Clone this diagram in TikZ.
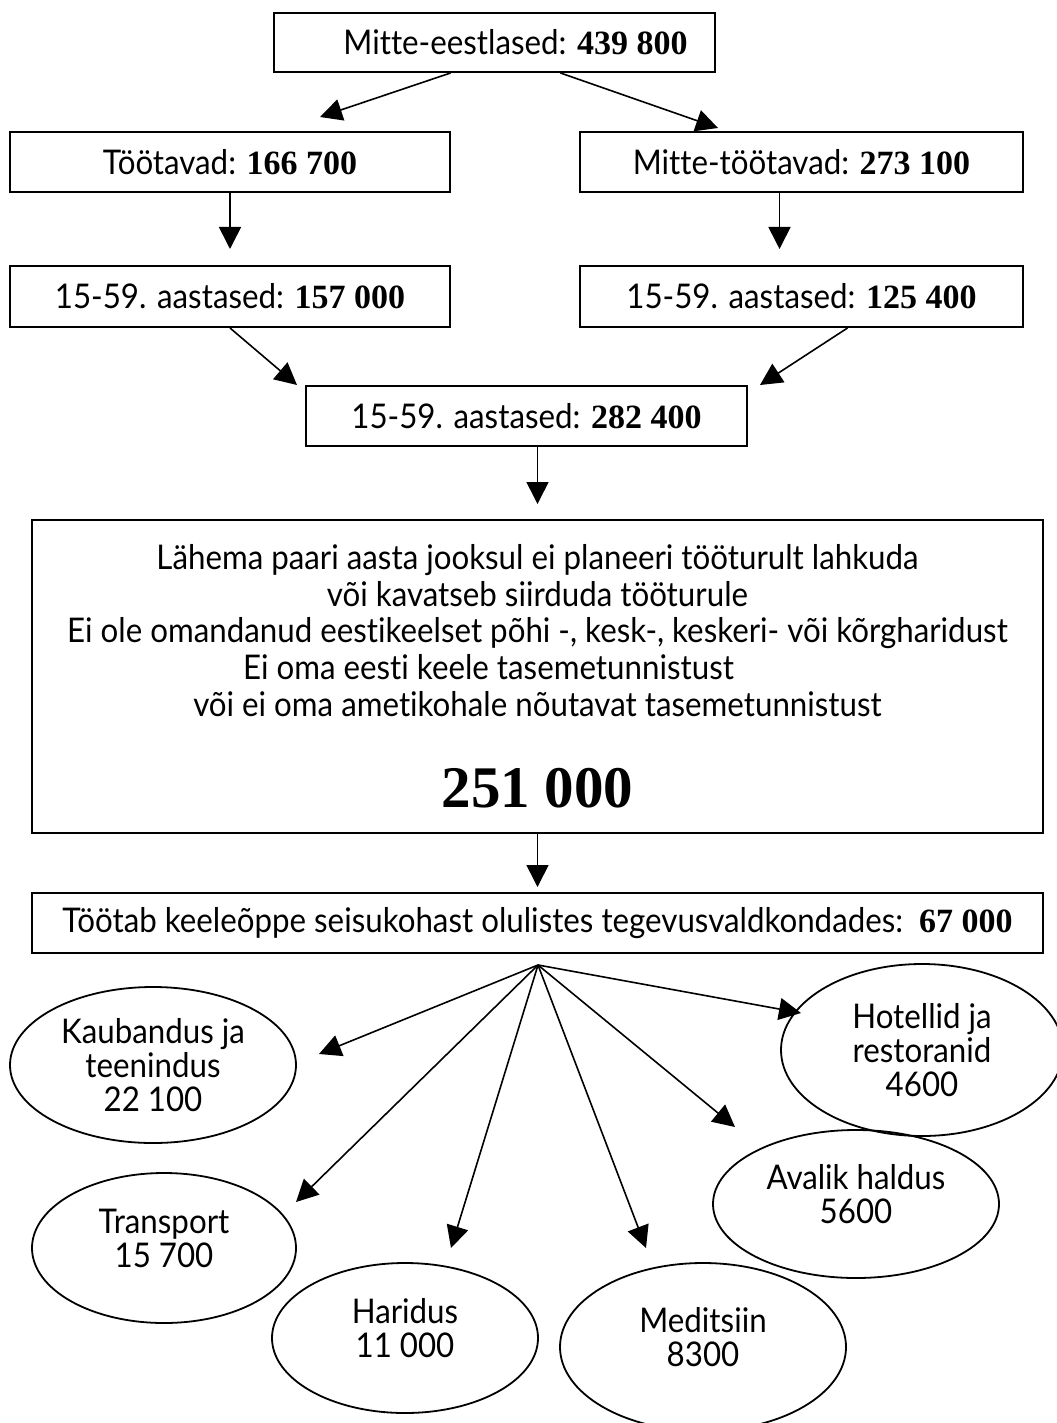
\documentclass[tikz,border=0pt]{standalone}
\usepackage{fontspec}
\setmainfont{Lato}[FakeStretch=0.92, Ligatures=NoCommon]
\newfontfamily\numfont{Liberation Serif}
\usetikzlibrary{shapes.geometric}
\usetikzlibrary{arrows.meta}

\newcommand{\amount}[1]{{\numfont\bfseries #1}}

\tikzset{
  box/.style={draw, line width=1pt, inner sep=0pt,
    font=\fontsize{17}{18.3}\selectfont},
  sector/.style={draw, ellipse, line width=0.9pt, inner sep=0pt},
  lab/.style={align=center, inner sep=0pt, font=\fontsize{17}{17}\selectfont},
  arr/.style={-{Triangle[length=11pt,width=11pt]}, line width=0.8pt}
}

\begin{document}
\begin{tikzpicture}[x=0.5pt, y=-0.5pt]
    \useasboundingbox (0,0) rectangle (1056,1423);

    % boxes
    \node[box, minimum width=220.5pt, minimum height=29.5pt] (all) at (494.5,42.5)
        {\hspace*{21pt}Mitte-eestlased: \amount{439 800}};
    \node[box, minimum width=220pt, minimum height=30pt] (work) at (230,162)
        {Töötavad: \amount{166 700}};
    \node[box, minimum width=221.5pt, minimum height=30pt] (nowork) at (801.5,162)
        {Mitte-töötavad: \amount{273 100}};
    \node[box, minimum width=220pt, minimum height=30.5pt] (ageW) at (230,296.5)
        {15-59. aastased: \amount{157 000}};
    \node[box, minimum width=221.5pt, minimum height=30.5pt] (ageN) at (801.5,296.5)
        {15-59. aastased: \amount{125 400}};
    \node[box, minimum width=220.5pt, minimum height=30pt] (age) at (526.5,416)
        {15-59. aastased: \amount{282 400}};
    \node[box, align=center, minimum width=505.5pt, minimum height=156.5pt] (goal) at (537.5,676.5)
        {Lähema paari aasta jooksul ei planeeri tööturult lahkuda\\
         või kavatseb siirduda tööturule\\
         Ei ole omandanud eestikeelset põhi -, kesk-, keskeri- või kõrgharidust\\
         Ei oma eesti keele tasemetunnistust\hspace*{49pt}\mbox{}\\
         või ei oma ametikohale nõutavat tasemetunnistust\\[25pt]
         {\fontsize{29.5}{30}\selectfont\amount{251 000}}};
    \node[box, minimum width=505.5pt, minimum height=30pt] (field) at (537.5,923)
        {Töötab keeleõppe seisukohast olulistes tegevusvaldkondades:~~\amount{67 000}};

    % fields
    \node[sector, minimum width=143pt, minimum height=78pt,
        label={[lab]center:Kaubandus ja\\teenindus\\22 100}] (trade) at (153,1065) {};
    \node[sector, minimum width=141pt, minimum height=86pt,
        label={[lab]center:Hotellid ja\\restoranid\\4600}] (hotel) at (922,1050) {};
    \node[sector, minimum width=143pt, minimum height=74pt,
        label={[lab, yshift=5pt]center:Avalik haldus\\5600}] (admin) at (856,1204) {};
    \node[sector, minimum width=132pt, minimum height=75pt,
        label={[lab, yshift=5pt]center:Transport\\15 700}] (transp) at (164,1248) {};
    \node[sector, minimum width=133pt, minimum height=75pt,
        label={[lab, yshift=5pt]center:Haridus\\11 000}] (educ) at (405,1338) {};
    \node[sector, minimum width=143pt, minimum height=84pt,
        label={[lab, yshift=5pt]center:Meditsiin\\8300}] (med) at (703,1347) {};

    % arrow ends
    \coordinate (work-in) at (320,117);
    \coordinate (nowork-in) at (718,128);
    \coordinate (ageW-in) at (297,385);
    \coordinate (ageN-in) at (760,385);
    \coordinate (fan) at (538,965);
    \coordinate (trade-in) at (319,1054);
    \coordinate (hotel-in) at (801,1013);
    \coordinate (admin-in) at (735,1127);
    \coordinate (transp-in) at (296,1202);
    \coordinate (educ-in) at (451,1248);
    \coordinate (med-in) at (646,1248);

    % arrows
    \draw[arr] ([xshift=-22pt]all.south) -- (work-in);
    \draw[arr] ([xshift=33pt]all.south) -- (nowork-in);
    \draw[arr, shorten >=8pt] (work.south) -- (ageW.north);
    \draw[arr, shorten >=8pt] ([xshift=-11pt]nowork.south) -- ([xshift=-11pt]ageN.north);
    \draw[arr] (ageW.south) -- (ageW-in);
    \draw[arr] ([xshift=23pt]ageN.south) -- (ageN-in);
    \draw[arr, shorten >=7.5pt] (age.south -| goal.north) -- (goal.north);
    \draw[arr, shorten >=2.5pt] (goal.south) -- (field.north);

    \draw[arr] (fan) -- (trade-in);
    \draw[arr] (fan) -- (hotel-in);
    \draw[arr] (fan) -- (admin-in);
    \draw[arr] (fan) -- (transp-in);
    \draw[arr] (fan) -- (educ-in);
    \draw[arr] (fan) -- (med-in);
\end{tikzpicture}
\end{document}
